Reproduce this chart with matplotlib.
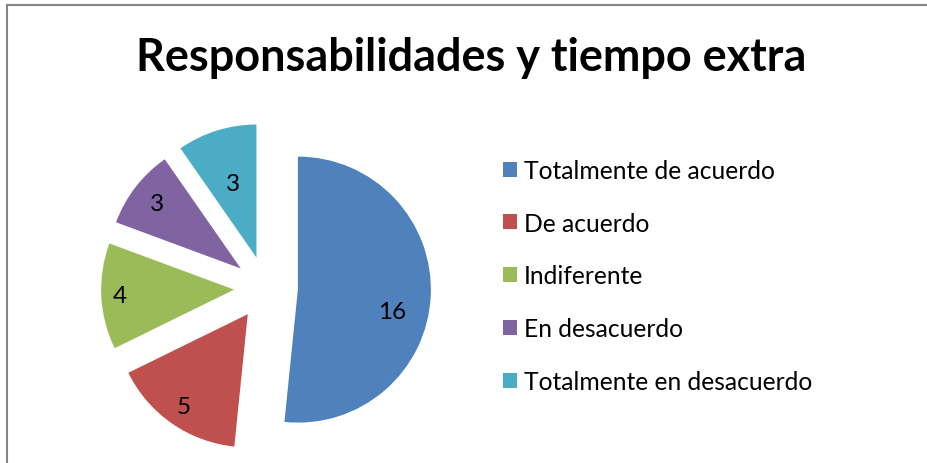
import numpy as np
import matplotlib
matplotlib.use("Agg")
import matplotlib.pyplot as plt
from matplotlib.lines import Line2D

# Data
categories = ["Totalmente de acuerdo", "De acuerdo", "Indiferente",
              "En desacuerdo", "Totalmente en desacuerdo"]
values = [16, 5, 4, 3, 3]
title = "Responsabilidades y tiempo extra"

colors = ["#4F81BD", "#C0504D", "#9BBB59", "#8064A2", "#4BACC6"]
# label placement (fraction of radius) and angle tweak, Excel "best fit" look
label_dist = [0.73, 0.845, 0.86, 0.80, 0.585]
label_shift = [-10, 0, 0, 0, 0]

plt.rcParams["font.family"] = ["Lato", "DejaVu Sans"]

W, H = 927, 464
fig = plt.figure(figsize=(W / 100, H / 100), dpi=100)

# pie axes: 133 px per unit, pie centre at (266, 289) px from top-left
scale = 133.0
cx, cy = 266.0, 289.0
ax = fig.add_axes([0, 0, 532 / W, 1])
wedges, _ = ax.pie(values, colors=colors, startangle=90, counterclock=False,
                   explode=[0.24] * len(values), radius=1.0,
                   wedgeprops=dict(linewidth=0))
ax.set_xlim(-cx / scale, (532 - cx) / scale)
ax.set_ylim(-(H - cy) / scale, cy / scale)
ax.set_aspect("auto")
ax.axis("off")

for w, v, d, s in zip(wedges, values, label_dist, label_shift):
    mid = np.deg2rad((w.theta1 + w.theta2) / 2 + s)
    x0, y0 = w.center
    ax.text(x0 + d * w.r * np.cos(mid), y0 + d * w.r * np.sin(mid), str(v),
            ha="center", va="center", fontsize=17.5, color="black")

# title
fig.text(471 / W, 1 - 58 / H, title, ha="center", va="center",
         fontsize=32.4, fontweight="bold", color="black")

# legend
leg = fig.legend(wedges, categories, loc="upper left",
                 bbox_to_anchor=(493 / W, 1 - 150 / H), frameon=False,
                 fontsize=17.7, handlelength=0.57, handleheight=0.57,
                 handletextpad=0.3, labelspacing=1.21, borderaxespad=0)

# chart area border (only top and left visible in the crop)
border = "#868686"
fig.add_artist(Line2D([6.5 / W, 6.5 / W], [0, 1 - 5.5 / H], color=border,
                      lw=1.5, transform=fig.transFigure))
fig.add_artist(Line2D([6.5 / W, 1], [1 - 5.5 / H, 1 - 5.5 / H], color=border,
                      lw=1.5, transform=fig.transFigure))

fig.savefig("out.png", dpi=100)
